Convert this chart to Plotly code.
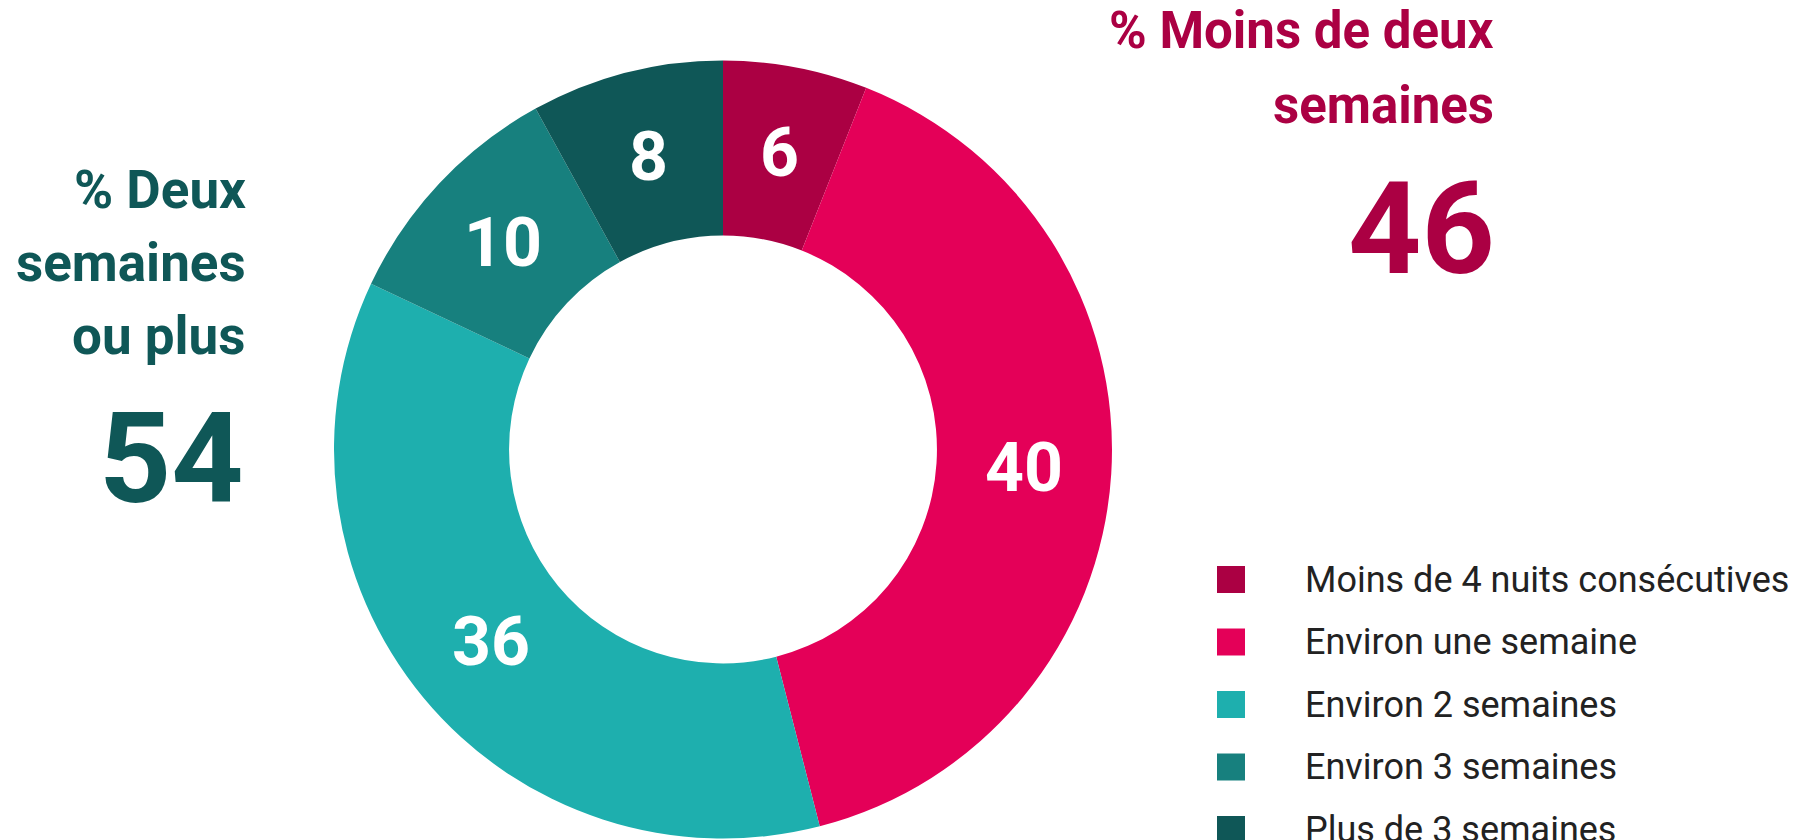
import math
import plotly.graph_objects as go

# ---- data ----
categories = [
    "Moins de 4 nuits consécutives",
    "Environ une semaine",
    "Environ 2 semaines",
    "Environ 3 semaines",
    "Plus de 3 semaines",
]
values = [6, 40, 36, 10, 8]
colors = ["#AB0043", "#E40058", "#1EAFAE", "#17807E", "#0F5757"]

group_less_title = ["% Moins de deux", "semaines"]
group_less_value = "46"
group_more_title = ["% Deux", "semaines", "ou plus"]
group_more_value = "54"

W, H = 1793, 840
FONT = "Roboto"
HOLE = 0.55

# pie geometry (pixels)
CX, CY, R = 723, 449.5, 389


def px_x(x):
    return x / W


def px_y(y):
    return 1 - y / H


fig = go.Figure()
fig.add_trace(go.Pie(
    labels=categories,
    values=values,
    marker=dict(colors=colors, line=dict(width=0)),
    hole=HOLE,
    sort=False,
    direction="clockwise",
    rotation=0,
    textinfo="none",
    showlegend=False,
    hoverinfo="label+value",
    domain=dict(x=[px_x(CX - R), px_x(CX + R)], y=[px_y(CY + R), px_y(CY - R)]),
))

annotations = []

# slice value labels at the middle of the ring, derived from the values
total = sum(values)
r_mid = R * (1 + HOLE) / 2
cum = 0
for v in values:
    ang = math.radians((cum + v / 2) / total * 360)
    cum += v
    annotations.append(dict(
        text=str(v), x=px_x(CX + r_mid * math.sin(ang)), y=px_y(CY - r_mid * math.cos(ang)),
        xref="paper", yref="paper", xanchor="center", yanchor="middle", showarrow=False,
        font=dict(family=FONT, size=68, color="white", weight=700)))

# right block (moins de deux semaines)
for i, line in enumerate(group_less_title):
    annotations.append(dict(
        text=line, x=px_x(1496), y=px_y(31 + i * 74), xref="paper", yref="paper",
        xanchor="right", yanchor="middle", showarrow=False,
        font=dict(family=FONT, size=51, color=colors[0], weight=700)))
annotations.append(dict(
    text=group_less_value, x=px_x(1497), y=px_y(229), xref="paper", yref="paper",
    xanchor="right", yanchor="middle", showarrow=False,
    font=dict(family=FONT, size=128, color=colors[0], weight=700)))

# left block (deux semaines ou plus)
for i, line in enumerate(group_more_title):
    annotations.append(dict(
        text=line, x=px_x(248), y=px_y(190 + i * 73), xref="paper", yref="paper",
        xanchor="right", yanchor="middle", showarrow=False,
        font=dict(family=FONT, size=53, color=colors[4], weight=700)))
annotations.append(dict(
    text=group_more_value, x=px_x(246), y=px_y(459), xref="paper", yref="paper",
    xanchor="right", yanchor="middle", showarrow=False,
    font=dict(family=FONT, size=126, color=colors[4], weight=700)))

# legend (drawn from categories / colors)
shapes = []
for i, (cat, col) in enumerate(zip(categories, colors)):
    yc = 579.5 + i * 62.5
    shapes.append(dict(
        type="rect", xref="paper", yref="paper",
        x0=px_x(1217), x1=px_x(1245), y0=px_y(yc + 13.5), y1=px_y(yc - 13.5),
        fillcolor=col, line=dict(width=0)))
    annotations.append(dict(
        text=cat, x=px_x(1303), y=px_y(yc), xref="paper", yref="paper",
        xanchor="left", yanchor="middle", showarrow=False,
        font=dict(family=FONT, size=36, color="#222222")))

fig.update_layout(
    width=W, height=H,
    margin=dict(l=0, r=0, t=0, b=0),
    paper_bgcolor="white",
    plot_bgcolor="white",
    annotations=annotations,
    shapes=shapes,
    showlegend=False,
)

fig.write_html("out.html", config={"displayModeBar": False})

# remove the browser's default body margin so the figure sits at the page origin
with open("out.html", encoding="utf-8") as f:
    html = f.read()
html = html.replace("<body>", '<body style="margin:0;overflow:hidden">', 1)
with open("out.html", "w", encoding="utf-8") as f:
    f.write(html)
